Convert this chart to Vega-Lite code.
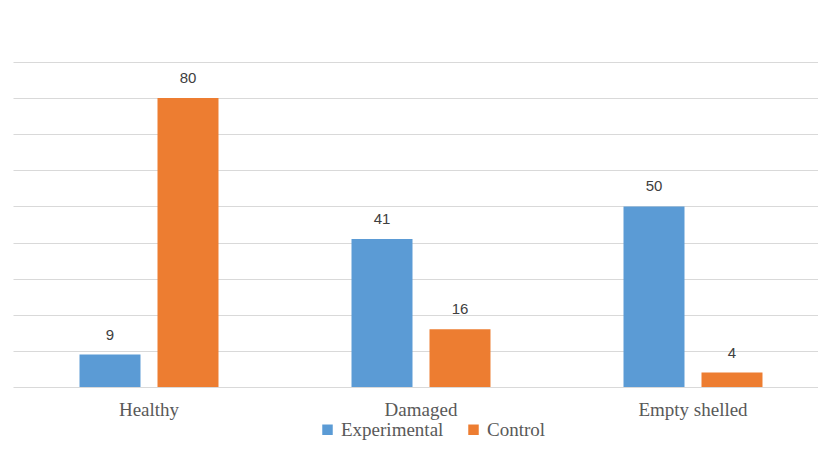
{
  "$schema": "https://vega.github.io/schema/vega-lite/v6.json",
  "autosize": {"type": "none"},
  "padding": {"left": 13, "top": 62, "right": 0, "bottom": 62},
  "width": 816,
  "height": 325,
  "background": "white",
  "data": {
    "values": [
      {"category": "Healthy", "group": "Experimental", "value": 9},
      {"category": "Healthy", "group": "Control", "value": 80},
      {"category": "Damaged", "group": "Experimental", "value": 41},
      {"category": "Damaged", "group": "Control", "value": 16},
      {"category": "Empty shelled", "group": "Experimental", "value": 50},
      {"category": "Empty shelled", "group": "Control", "value": 4}
    ]
  },
  "encoding": {
    "x": {
      "field": "category",
      "type": "nominal",
      "sort": ["Healthy", "Damaged", "Empty shelled"],
      "scale": {"paddingInner": 0.489, "paddingOuter": 0.2445},
      "axis": {
        "title": null,
        "ticks": false,
        "domain": false,
        "labelAngle": 0,
        "labelFont": "Liberation Serif",
        "labelFontSize": 19,
        "labelColor": "#595959",
        "labelPadding": 13
      }
    },
    "xOffset": {
      "field": "group",
      "type": "nominal",
      "sort": ["Experimental", "Control"],
      "scale": {"paddingInner": 0.218, "paddingOuter": 0}
    },
    "y": {
      "field": "value",
      "type": "quantitative",
      "scale": {"domain": [0, 90], "nice": false},
      "axis": {
        "title": null,
        "labels": false,
        "ticks": false,
        "domain": false,
        "values": [0, 10, 20, 30, 40, 50, 60, 70, 80, 90],
        "gridColor": "#d9d9d9",
        "gridWidth": 1
      }
    }
  },
  "layer": [
    {
      "mark": {"type": "bar"},
      "encoding": {
        "color": {
          "field": "group",
          "type": "nominal",
          "sort": ["Experimental", "Control"],
          "scale": {"domain": ["Experimental", "Control"], "range": ["#5B9BD5", "#ED7D31"]},
          "legend": {
            "title": null,
            "orient": "none",
            "direction": "horizontal",
            "legendX": 305,
            "legendY": 358,
            "symbolType": "square",
            "symbolSize": 110,
            "symbolStrokeWidth": 0,
            "labelFont": "Liberation Serif",
            "labelFontSize": 19,
            "labelColor": "#595959",
            "labelOffset": 4,
            "columnPadding": 20,
            "labelLimit": 300
          }
        }
      }
    },
    {
      "mark": {"type": "text", "baseline": "bottom", "dy": -12, "fontSize": 15, "color": "#404040"},
      "encoding": {
        "text": {"field": "value", "type": "quantitative"}
      }
    }
  ],
  "config": {
    "text": {"font": "Liberation Sans"},
    "view": {"stroke": null}
  }
}
